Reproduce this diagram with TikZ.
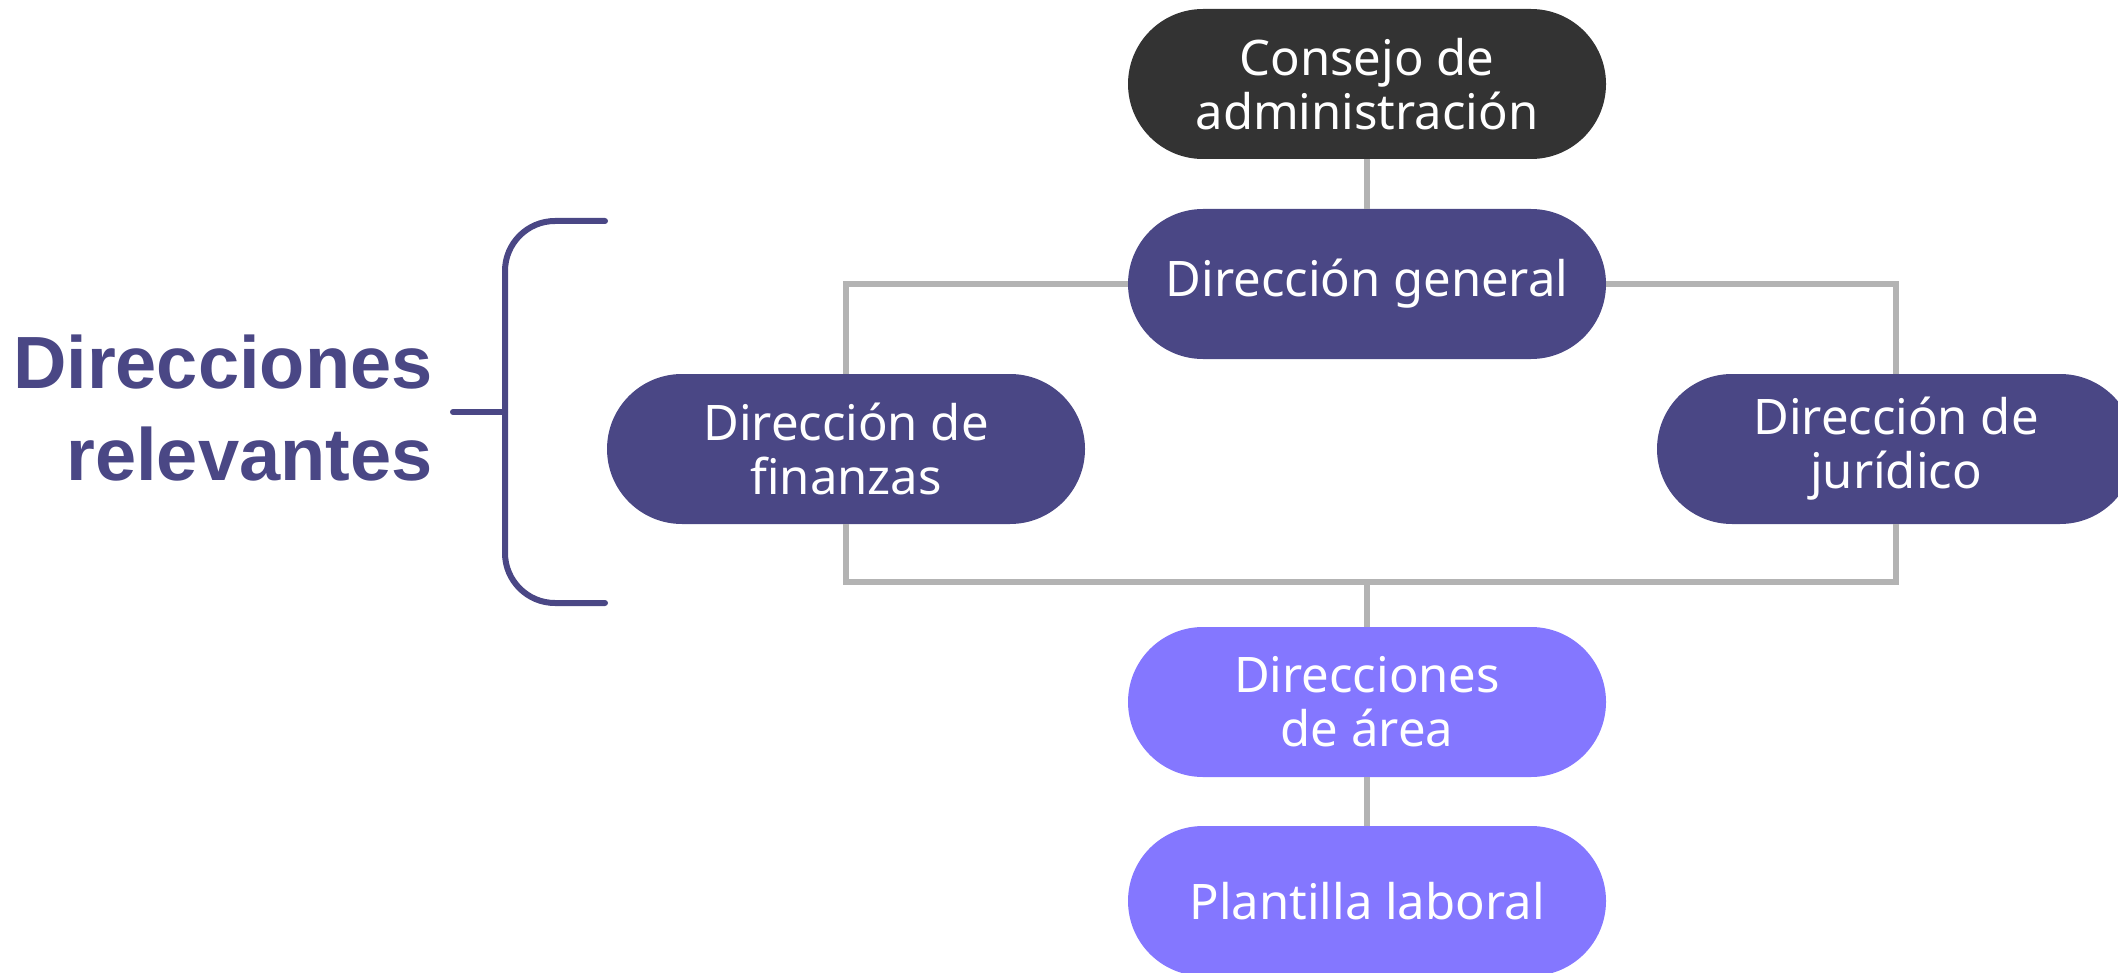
\documentclass[tikz,border=0pt]{standalone}
\usepackage{fontspec}
\newfontfamily\boxfont{Noto Sans}
\newfontfamily\titlefont{Liberation Sans}
\definecolor{oscuro}{HTML}{333333}
\definecolor{morado}{HTML}{4A4785}
\definecolor{lila}{HTML}{8477FF}
\definecolor{gris}{HTML}{B3B3B3}
\tikzset{
  caja/.style={rectangle, rounded corners=37.5pt, minimum width=239pt, minimum height=75pt,
    inner sep=0pt, text=white, align=center, font=\boxfont\fontsize{24.5}{27}\selectfont},
  linea/.style={draw=gris, line width=3pt},
}
\begin{document}
\begin{tikzpicture}[x=0.5pt,y=-0.5pt]
  \useasboundingbox (0,0) rectangle (2118,973);
  \node[caja, fill=oscuro] (consejo) at (1367,84) {Consejo de\\administración};
  \node[caja, fill=morado] (general) at (1367,284) {Dirección general};
  \node[caja, fill=morado] (finanzas) at (846,449) {Dirección de\\finanzas};
  \node[caja, fill=morado] (juridico) at (1896,449) {Dirección de\\jurídico};
  \node[caja, fill=lila] (area) at (1367,702) {Direcciones\\de área};
  \node[caja, fill=lila] (plantilla) at (1367,901) {Plantilla laboral};
  \coordinate (barra) at (1367,582);% barra inferior
  \draw[linea] (consejo) -- (general);
  \draw[linea] (general.west) -| (finanzas.north);
  \draw[linea] (general.east) -| (juridico.north);
  \draw[linea] (finanzas.south) |- (barra) -| (juridico.south);
  \draw[linea] (barra) -- (area.north);
  \draw[linea] (area) -- (plantilla);
  % llave de las direcciones
  \coordinate (la) at (605,221);
  \coordinate (lb) at (605,603);
  \coordinate (lm) at (505,412);
  \coordinate (lt) at (453,412);
  \draw[morado, line width=3pt, line cap=round, rounded corners=25pt] (la) -- (505,221) -- (505,603) -- (lb);
  \draw[morado, line width=3pt, line cap=round] (lt) -- (lm);
  \node[anchor=east, align=right, inner sep=0pt, text=morado, font=\titlefont\bfseries\fontsize{37}{46}\selectfont] (titulo) at (433,408) {Direcciones\\relevantes};
\end{tikzpicture}
\end{document}
